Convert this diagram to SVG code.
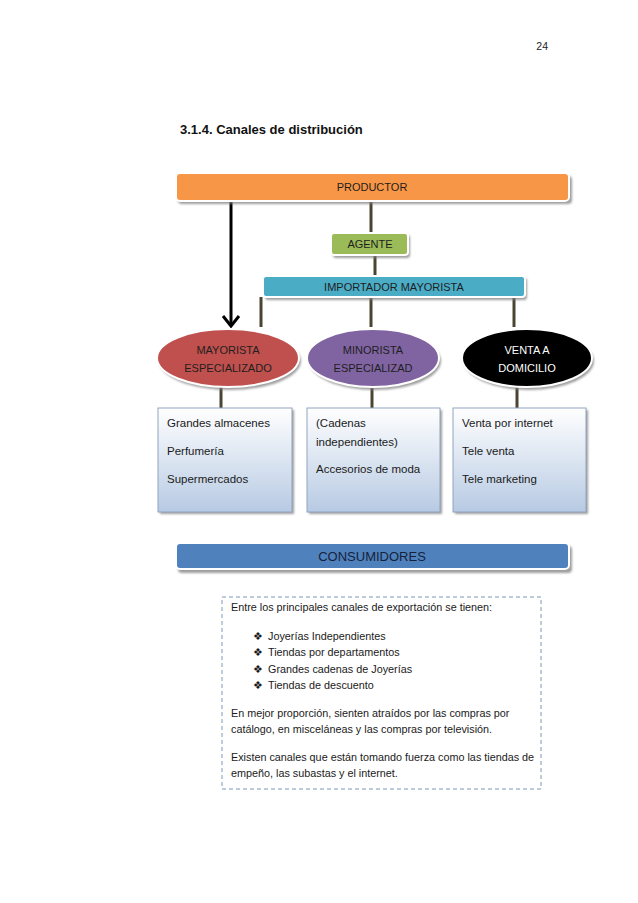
<svg xmlns="http://www.w3.org/2000/svg" width="638" height="903" viewBox="0 0 638 903">
<defs>
<linearGradient id="boxg" x1="0" y1="0" x2="0" y2="1">
<stop offset="0" stop-color="#FFFFFF"/>
<stop offset="1" stop-color="#B7CAE3"/>
</linearGradient>
<filter id="sh" x="-10%" y="-30%" width="130%" height="170%">
<feGaussianBlur stdDeviation="0.8"/>
</filter>
</defs>
<style>
text{font-family:"Liberation Sans",Arial,sans-serif;}
.bar{stroke:#FFFFFF;stroke-width:2;}
.shadow{fill:#7F7F7F;opacity:0.75;filter:url(#sh);}
.lbl{font-size:11px;fill:#1E1E1E;text-anchor:middle;}
.conn{stroke:#4B4430;stroke-width:3;fill:none;}
.box{fill:url(#boxg);stroke:#8FA3BF;stroke-width:1;}
.bt{font-size:11.5px;fill:#1A1A1A;}
.pt{font-size:10.8px;fill:#1A1A1A;}
</style>
<rect width="638" height="903" fill="#FFFFFF"/>
<text x="548" y="50" font-size="10.5" text-anchor="end" fill="#222">24</text>
<text x="180" y="134" font-size="13" font-weight="bold" fill="#111">3.1.4. Canales de distribución</text>

<g id="connectors">
<line class="conn" x1="371" y1="201" x2="371" y2="233"/>
<line class="conn" x1="375" y1="255" x2="375" y2="276"/>
<line class="conn" x1="261" y1="297" x2="261" y2="327"/>
<line class="conn" x1="371" y1="297" x2="371" y2="327"/>
<line class="conn" x1="514" y1="297" x2="514" y2="327"/>
<line class="conn" x1="221" y1="383" x2="221" y2="408"/>
<line class="conn" x1="372" y1="383" x2="372" y2="408"/>
<line class="conn" x1="517" y1="383" x2="517" y2="408"/>
<line x1="231" y1="201" x2="231" y2="325" stroke="#000" stroke-width="3"/>
<path d="M223,316 L231,326 L239,316" fill="none" stroke="#000" stroke-width="3" stroke-linejoin="miter"/>
</g>

<g id="productor">
<rect class="shadow" x="178" y="176" width="394" height="28" rx="4"/>
<rect class="bar" x="176" y="173" width="393" height="28" rx="4" fill="#F79646"/>
<text class="lbl" x="372" y="191">PRODUCTOR</text>
</g>

<g id="agente">
<rect class="shadow" x="333" y="235" width="77" height="23" rx="3"/>
<rect class="bar" x="331" y="233" width="77" height="22" rx="3" fill="#9BBB59"/>
<text class="lbl" x="370" y="248" font-size="10">AGENTE</text>
</g>

<g id="importador">
<rect class="shadow" x="265" y="278" width="262" height="22" rx="3"/>
<rect class="bar" x="263" y="276" width="262" height="21" rx="3" fill="#4BACC6"/>
<text class="lbl" x="394" y="291" font-size="10">IMPORTADOR MAYORISTA</text>
</g>

<g id="mayorista">
<ellipse class="shadow" cx="230" cy="361" rx="71" ry="29"/>
<ellipse class="bar" cx="228" cy="358" rx="71" ry="29" fill="#C0504D"/>
<text class="lbl" x="228" y="354">MAYORISTA</text>
<text class="lbl" x="228" y="372">ESPECIALIZADO</text>
</g>

<g id="minorista">
<ellipse class="shadow" cx="375" cy="361" rx="66" ry="29"/>
<ellipse class="bar" cx="373" cy="358" rx="66" ry="29" fill="#8064A2"/>
<text class="lbl" x="373" y="354">MINORISTA</text>
<text class="lbl" x="373" y="372">ESPECIALIZAD</text>
</g>

<g id="venta">
<ellipse class="shadow" cx="529" cy="361" rx="65" ry="29"/>
<ellipse class="bar" cx="527" cy="358" rx="65" ry="29" fill="#000000"/>
<text class="lbl" x="527" y="354" style="fill:#FFFFFF">VENTA A</text>
<text class="lbl" x="527" y="372" style="fill:#FFFFFF">DOMICILIO</text>
</g>

<g id="box-mayorista">
<rect class="shadow" x="160" y="410" width="134" height="104"/>
<rect class="box" x="158" y="408" width="134" height="104"/>
<text class="bt" x="167" y="427">Grandes almacenes</text>
<text class="bt" x="167" y="455">Perfumería</text>
<text class="bt" x="167" y="483">Supermercados</text>
</g>

<g id="box-minorista">
<rect class="shadow" x="309" y="410" width="133" height="104"/>
<rect class="box" x="307" y="408" width="133" height="104"/>
<text class="bt" x="316" y="427">(Cadenas</text>
<text class="bt" x="316" y="446">independientes)</text>
<text class="bt" x="316" y="473">Accesorios de moda</text>
</g>

<g id="box-venta">
<rect class="shadow" x="455" y="410" width="133" height="104"/>
<rect class="box" x="453" y="408" width="133" height="104"/>
<text class="bt" x="462" y="427">Venta por internet</text>
<text class="bt" x="462" y="455">Tele venta</text>
<text class="bt" x="462" y="483">Tele marketing</text>
</g>

<g id="consumidores">
<rect class="shadow" x="178" y="546" width="394" height="27" rx="4"/>
<rect class="bar" x="176" y="543" width="393" height="26" rx="4" fill="#4F81BD"/>
<text x="372" y="561" font-size="13" text-anchor="middle" fill="#16213A">CONSUMIDORES</text>
</g>

<g id="nota">
<rect x="222" y="597" width="319" height="192" fill="none" stroke="#7F97BA" stroke-width="1" stroke-dasharray="4 3"/>
<text class="pt" x="231" y="611">Entre los principales canales de exportación se tienen:</text>
<text class="pt" x="253" y="640">❖</text><text class="pt" x="268" y="640">Joyerías Independientes</text>
<text class="pt" x="253" y="656">❖</text><text class="pt" x="268" y="656">Tiendas por departamentos</text>
<text class="pt" x="253" y="673">❖</text><text class="pt" x="268" y="673">Grandes cadenas de Joyerías</text>
<text class="pt" x="253" y="689">❖</text><text class="pt" x="268" y="689">Tiendas de descuento</text>
<text class="pt" x="231" y="717">En mejor proporción, sienten atraídos por las compras por</text>
<text class="pt" x="231" y="733">catálogo, en misceláneas y las compras por televisión.</text>
<text class="pt" x="231" y="761">Existen canales que están tomando fuerza como las tiendas de</text>
<text class="pt" x="231" y="777">empeño, las subastas y el internet.</text>
</g>
</svg>
